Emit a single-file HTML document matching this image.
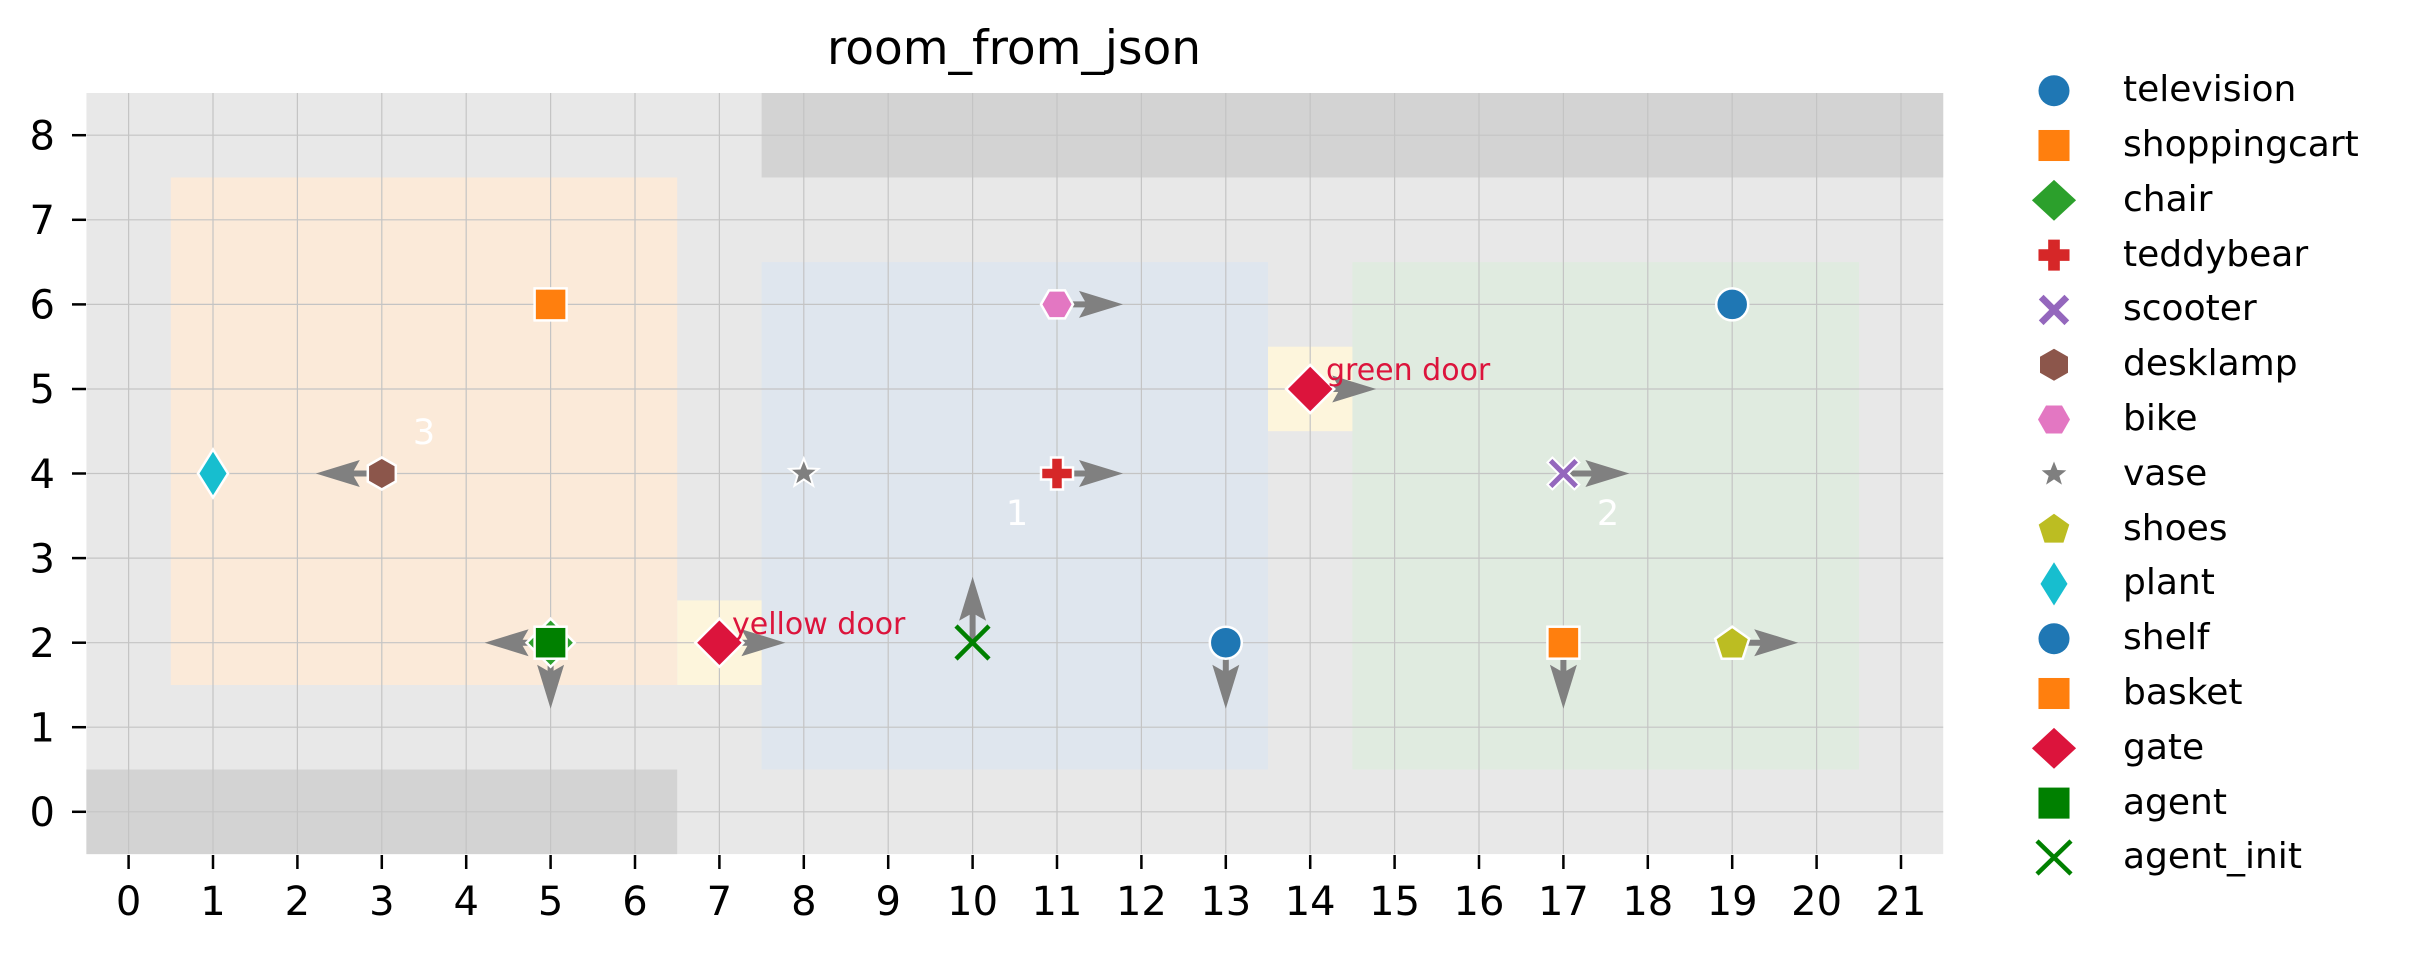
<!DOCTYPE html>
<html><head><meta charset="utf-8"><style>body{margin:0;background:#fff}svg{display:block}text{font-family:"DejaVu Sans","Liberation Sans",sans-serif}</style></head>
<body>
<svg width="2412" height="955" viewBox="0 0 2412 955" xmlns="http://www.w3.org/2000/svg">
<defs>
<polygon id="ar" points="0,-3 28,-3 22,-13.5 66,0 22,13.5 28,3 0,3" fill="#808080"/>
<rect id="msq" x="-16" y="-16" width="32" height="32"/>
<polygon id="mdi" points="0,-24 24,0 0,24 -24,0"/>
<polygon id="mth" points="0,-24 15,0 0,24 -15,0"/>
<polygon id="mhex" points="0,-16 14,-8 14,8 0,16 -14,8 -14,-8"/>
<polygon id="mhex2" points="-16,0 -8,-14 8,-14 16,0 8,14 -8,14"/>
<polygon id="mplus" points="-6,-16 6,-16 6,-6 16,-6 16,6 6,6 6,16 -6,16 -6,6 -16,6 -16,-6 -6,-6"/>
<polygon id="mx" points="-11,-16 0,-5 11,-16 16,-11 5,0 16,11 11,16 0,5 -11,16 -16,11 -5,0 -16,-11"/>
<polygon id="mstar" points="0,-15 4,-5 14.5,-4.6 6.3,2 9.3,12.2 0,6 -9.3,12.2 -6.3,2 -14.5,-4.6 -4,-5"/>
<polygon id="mpent" points="0,-17 17,-5 10.5,15 -10.5,15 -17,-5"/>
</defs>
<text x="1014" y="64" font-size="47" text-anchor="middle">room_from_json</text>
<rect x="86.4" y="93" width="1856.8" height="761.1" fill="#e8e8e8"/>
<rect x="761.6" y="93" width="1181.6" height="84.5" fill="#d3d3d3"/>
<rect x="86.4" y="769.5" width="590.8" height="84.6" fill="#d3d3d3"/>
<rect x="170.8" y="177.5" width="506.4" height="507.5" fill="#fbead9"/>
<rect x="761.6" y="262.1" width="506.4" height="507.4" fill="#dfe6ee"/>
<rect x="1352.4" y="262.1" width="506.6" height="507.4" fill="#e0ebe0"/>
<rect x="677.2" y="600.4" width="84.4" height="84.6" fill="#fdf5dc"/>
<rect x="1268" y="346.7" width="84.4" height="84.5" fill="#fdf5dc"/>
<g stroke="#c4c4c4" stroke-width="1.2">
<line x1="128.6" y1="93" x2="128.6" y2="854"/><line x1="213" y1="93" x2="213" y2="854"/><line x1="297.4" y1="93" x2="297.4" y2="854"/><line x1="381.8" y1="93" x2="381.8" y2="854"/><line x1="466.2" y1="93" x2="466.2" y2="854"/><line x1="550.6" y1="93" x2="550.6" y2="854"/><line x1="635" y1="93" x2="635" y2="854"/><line x1="719.4" y1="93" x2="719.4" y2="854"/><line x1="803.8" y1="93" x2="803.8" y2="854"/><line x1="888.2" y1="93" x2="888.2" y2="854"/><line x1="972.6" y1="93" x2="972.6" y2="854"/><line x1="1057" y1="93" x2="1057" y2="854"/><line x1="1141.4" y1="93" x2="1141.4" y2="854"/><line x1="1225.8" y1="93" x2="1225.8" y2="854"/><line x1="1310.2" y1="93" x2="1310.2" y2="854"/><line x1="1394.6" y1="93" x2="1394.6" y2="854"/><line x1="1479" y1="93" x2="1479" y2="854"/><line x1="1563.4" y1="93" x2="1563.4" y2="854"/><line x1="1647.8" y1="93" x2="1647.8" y2="854"/><line x1="1732.2" y1="93" x2="1732.2" y2="854"/><line x1="1816.6" y1="93" x2="1816.6" y2="854"/><line x1="1901" y1="93" x2="1901" y2="854"/>
<line x1="86.4" y1="135.2" x2="1943.2" y2="135.2"/><line x1="86.4" y1="219.8" x2="1943.2" y2="219.8"/><line x1="86.4" y1="304.4" x2="1943.2" y2="304.4"/><line x1="86.4" y1="389" x2="1943.2" y2="389"/><line x1="86.4" y1="473.5" x2="1943.2" y2="473.5"/><line x1="86.4" y1="558.1" x2="1943.2" y2="558.1"/><line x1="86.4" y1="642.7" x2="1943.2" y2="642.7"/><line x1="86.4" y1="727.2" x2="1943.2" y2="727.2"/><line x1="86.4" y1="811.8" x2="1943.2" y2="811.8"/>
</g>
<g stroke="#000" stroke-width="2.5">
<line x1="72" y1="135.2" x2="86" y2="135.2"/><line x1="72" y1="219.8" x2="86" y2="219.8"/><line x1="72" y1="304.4" x2="86" y2="304.4"/><line x1="72" y1="389" x2="86" y2="389"/><line x1="72" y1="473.5" x2="86" y2="473.5"/><line x1="72" y1="558.1" x2="86" y2="558.1"/><line x1="72" y1="642.7" x2="86" y2="642.7"/><line x1="72" y1="727.2" x2="86" y2="727.2"/><line x1="72" y1="811.8" x2="86" y2="811.8"/>
<line x1="128.6" y1="855" x2="128.6" y2="869"/><line x1="213" y1="855" x2="213" y2="869"/><line x1="297.4" y1="855" x2="297.4" y2="869"/><line x1="381.8" y1="855" x2="381.8" y2="869"/><line x1="466.2" y1="855" x2="466.2" y2="869"/><line x1="550.6" y1="855" x2="550.6" y2="869"/><line x1="635" y1="855" x2="635" y2="869"/><line x1="719.4" y1="855" x2="719.4" y2="869"/><line x1="803.8" y1="855" x2="803.8" y2="869"/><line x1="888.2" y1="855" x2="888.2" y2="869"/><line x1="972.6" y1="855" x2="972.6" y2="869"/><line x1="1057" y1="855" x2="1057" y2="869"/><line x1="1141.4" y1="855" x2="1141.4" y2="869"/><line x1="1225.8" y1="855" x2="1225.8" y2="869"/><line x1="1310.2" y1="855" x2="1310.2" y2="869"/><line x1="1394.6" y1="855" x2="1394.6" y2="869"/><line x1="1479" y1="855" x2="1479" y2="869"/><line x1="1563.4" y1="855" x2="1563.4" y2="869"/><line x1="1647.8" y1="855" x2="1647.8" y2="869"/><line x1="1732.2" y1="855" x2="1732.2" y2="869"/><line x1="1816.6" y1="855" x2="1816.6" y2="869"/><line x1="1901" y1="855" x2="1901" y2="869"/>
</g>
<g font-size="40" text-anchor="end">
<text x="55" y="149.5">8</text><text x="55" y="234">7</text><text x="55" y="318.5">6</text><text x="55" y="403">5</text><text x="55" y="488">4</text><text x="55" y="572.5">3</text><text x="55" y="657">2</text><text x="55" y="741.5">1</text><text x="55" y="826">0</text>
</g>
<g font-size="40" text-anchor="middle">
<text x="128.6" y="915">0</text><text x="213" y="915">1</text><text x="297.4" y="915">2</text><text x="381.8" y="915">3</text><text x="466.2" y="915">4</text><text x="550.6" y="915">5</text><text x="635" y="915">6</text><text x="719.4" y="915">7</text><text x="803.8" y="915">8</text><text x="888.2" y="915">9</text><text x="972.6" y="915">10</text><text x="1057" y="915">11</text><text x="1141.4" y="915">12</text><text x="1225.8" y="915">13</text><text x="1310.2" y="915">14</text><text x="1394.6" y="915">15</text><text x="1479" y="915">16</text><text x="1563.4" y="915">17</text><text x="1647.8" y="915">18</text><text x="1732.2" y="915">19</text><text x="1816.6" y="915">20</text><text x="1901" y="915">21</text>
</g>
<g font-size="35" fill="#fff" text-anchor="middle">
<text x="424" y="444">3</text><text x="1017" y="525">1</text><text x="1608" y="525">2</text>
</g>
<!-- arrows -->
<use href="#ar" transform="translate(381.8,473.5) scale(-1,1)"/>
<use href="#ar" transform="translate(550.6,642.7) scale(-1,1)"/>
<use href="#ar" transform="translate(550.6,642.7) rotate(90)"/>
<use href="#ar" transform="translate(719.4,642.7)"/>
<use href="#ar" transform="translate(1057,304.4)"/>
<use href="#ar" transform="translate(1057,473.5)"/>
<use href="#ar" transform="translate(972.6,642.7) rotate(-90)"/>
<use href="#ar" transform="translate(1225.8,642.7) rotate(90)"/>
<use href="#ar" transform="translate(1310.2,389)"/>
<use href="#ar" transform="translate(1563.4,473.5)"/>
<use href="#ar" transform="translate(1563.4,642.7) rotate(90)"/>
<use href="#ar" transform="translate(1732.2,642.7)"/>
<!-- markers -->
<g stroke="#fff" stroke-width="2.5">
<use href="#msq" transform="translate(550.6,304.4)" fill="#ff7f0e"/>
<use href="#mth" transform="translate(213,473.5)" fill="#17becf"/>
<use href="#mhex" transform="translate(381.8,473.5)" fill="#8c564b"/>
<use href="#mdi" transform="translate(550.6,642.7)" fill="#2ca02c"/>
<use href="#msq" transform="translate(550.6,642.7)" fill="#008000"/>
<use href="#mdi" transform="translate(719.4,642.7)" fill="#dc143c"/>
<use href="#mstar" transform="translate(803.8,473.5)" fill="#7f7f7f" stroke-width="2"/>
<use href="#mhex2" transform="translate(1057,304.4)" fill="#e377c2"/>
<use href="#mplus" transform="translate(1057,473.5)" fill="#d62728"/>
<ellipse cx="1225.8" cy="642.7" rx="16" ry="16" fill="#1f77b4"/>
<use href="#mdi" transform="translate(1310.2,389)" fill="#dc143c"/>
<use href="#mx" transform="translate(1563.4,473.5)" fill="#9467bd" stroke-width="2"/>
<use href="#msq" transform="translate(1563.4,642.7)" fill="#ff7f0e"/>
<ellipse cx="1732.2" cy="304.4" rx="16" ry="16" fill="#1f77b4"/>
<use href="#mpent" transform="translate(1732.2,643.7)" fill="#bcbd22"/>
</g>
<g stroke="#008000" stroke-width="4.5" fill="none">
<line x1="956" y1="626" x2="989" y2="659"/><line x1="989" y1="626" x2="956" y2="659"/>
</g>
<g font-size="30" fill="#dc143c">
<text x="732" y="634">yellow door</text>
<text x="1326" y="380">green door</text>
</g>
<!-- legend -->
<g>
<circle cx="2054" cy="90.7" r="15.5" fill="#1f77b4"/>
<use href="#msq" transform="translate(2054,145.5) scale(0.97)" fill="#ff7f0e"/>
<use href="#mdi" transform="translate(2054,200.3) scale(0.92,0.85)" fill="#2ca02c"/>
<use href="#mplus" transform="translate(2054,255.1) scale(0.97)" fill="#d62728"/>
<use href="#mx" transform="translate(2054,309.9) scale(0.95)" fill="#9467bd"/>
<use href="#mhex" transform="translate(2054,364.7)" fill="#8c564b"/>
<use href="#mhex2" transform="translate(2054,419.5)" fill="#e377c2"/>
<use href="#mstar" transform="translate(2054,474.3) scale(0.85)" fill="#7f7f7f"/>
<use href="#mpent" transform="translate(2054,529.1) scale(0.9)" fill="#bcbd22"/>
<use href="#mth" transform="translate(2054,583.9) scale(0.9)" fill="#17becf"/>
<circle cx="2054" cy="638.7" r="15.5" fill="#1f77b4"/>
<use href="#msq" transform="translate(2054,693.5) scale(0.97)" fill="#ff7f0e"/>
<use href="#mdi" transform="translate(2054,748.3) scale(0.92,0.85)" fill="#dc143c"/>
<use href="#msq" transform="translate(2054,803.1) scale(0.97)" fill="#008000"/>
<g stroke="#008000" stroke-width="4.5"><line x1="2037" y1="841" x2="2071" y2="874"/><line x1="2071" y1="841" x2="2037" y2="874"/></g>
</g>
<g font-size="36">
<text x="2123" y="101">television</text>
<text x="2123" y="156">shoppingcart</text>
<text x="2123" y="211">chair</text>
<text x="2123" y="266">teddybear</text>
<text x="2123" y="320">scooter</text>
<text x="2123" y="375">desklamp</text>
<text x="2123" y="430">bike</text>
<text x="2123" y="485">vase</text>
<text x="2123" y="540">shoes</text>
<text x="2123" y="594">plant</text>
<text x="2123" y="649">shelf</text>
<text x="2123" y="704">basket</text>
<text x="2123" y="759">gate</text>
<text x="2123" y="814">agent</text>
<text x="2123" y="868">agent_init</text>
</g>
</svg>
</body></html>
